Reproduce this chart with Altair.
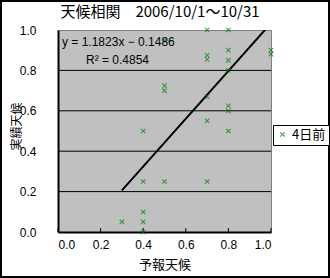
import altair as alt
import pandas as pd

# Data
forecast = [0.7, 0.8, 0.5, 1.0, 1.0, 0.8, 0.7, 0.7, 0.8, 0.8, 0.5, 0.5, 0.7,
            0.8, 0.8, 0.7, 0.8, 0.4, 0.4, 0.5, 0.7, 0.4, 0.3, 0.4, 0.4]
actual = [1.0, 1.0, 0.95, 0.90, 0.88, 0.90, 0.875, 0.855, 0.85, 0.80, 0.725, 0.70, 0.67,
          0.625, 0.60, 0.55, 0.50, 0.50, 0.25, 0.25, 0.25, 0.10, 0.05, 0.05, 0.0]
series_name = "4日前"
slope = 1.1823
intercept = -0.1486
r2 = 0.4854
tick_vals = [0.0, 0.2, 0.4, 0.6, 0.8, 1.0]
grid_vals = [0.2, 0.4, 0.6, 0.8]
title_text = "天候相関\u30002006/10/1〜10/31"

JP = "Noto Sans CJK JP"
NUM = "Liberation Sans"
GREEN = "#008000"
XPATH = "M-1,-1L1,1M-1,1L1,-1"

pts = pd.DataFrame({"x": forecast, "y": actual, "s": series_name})
xmin, xmax = min(forecast), max(forecast)
trend = pd.DataFrame({"x": [xmin, xmax],
                      "y": [slope * xmin + intercept, slope * xmax + intercept]})
grid = pd.DataFrame({"g": grid_vals})
ticks = pd.DataFrame({"t": tick_vals})

xs = alt.Scale(domain=[0, 1], nice=False)
ys = alt.Scale(domain=[0, 1], nice=False)

xaxis = alt.Axis(values=tick_vals, format=".1f", title="予報天候", grid=False,
                 ticks=False, domainColor="black", domainWidth=2,
                 labelFont=NUM, labelFontSize=12, labelColor="black", labelPadding=7,
                 titleFont=JP, titleFontSize=13, titleFontWeight="normal",
                 titleColor="black", titlePadding=8)
yaxis = alt.Axis(values=tick_vals, format=".1f", title="実績天候", grid=False,
                 ticks=False, domainColor="black", domainWidth=2,
                 labelFont=NUM, labelFontSize=12, labelColor="black", labelPadding=22,
                 titleFont=JP, titleFontSize=12, titleFontWeight="normal",
                 titleColor="black", titleX=-42, titleY=96, titleAngle=270,
                 titleBaseline="middle", titleAlign="center")

gridlines = alt.Chart(grid).mark_rule(color="black", strokeWidth=1).encode(
    y=alt.Y("g:Q", scale=ys, axis=yaxis))

xticks = alt.Chart(ticks).mark_rule(color="black", strokeWidth=1).encode(
    x=alt.X("t:Q", scale=xs, axis=xaxis), y=alt.value(202), y2=alt.value(198))

line = alt.Chart(trend).mark_line(color="black", strokeWidth=2, clip=True).encode(
    x=alt.X("x:Q", scale=xs), y=alt.Y("y:Q", scale=ys))

points = alt.Chart(pts).mark_point(shape=XPATH, filled=False, size=20,
                                   strokeWidth=1.1, clip=False).encode(
    x=alt.X("x:Q", scale=xs),
    y=alt.Y("y:Q", scale=ys),
    color=alt.Color("s:N", scale=alt.Scale(domain=[series_name], range=[GREEN]),
                    legend=alt.Legend(title=None, orient="none", legendX=215, legendY=95,
                                      symbolType=XPATH, symbolSize=20,
                                      symbolStrokeWidth=1.1, symbolFillColor="transparent",
                                      labelFont=JP, labelFontSize=13, labelColor="black",
                                      labelOffset=3, strokeColor="black", fillColor="white",
                                      padding=3)))

eq = pd.DataFrame({"t": [f"y = {slope:.4f}x − {abs(intercept):.4f}"]})
rr = pd.DataFrame({"t": [f"R² = {r2:.4f}"]})
tt = pd.DataFrame({"t": [title_text]})
eq_text = alt.Chart(eq).mark_text(align="left", baseline="middle", font=NUM,
                                  fontSize=12, color="black").encode(
    text="t:N", x=alt.value(4), y=alt.value(12))
rr_text = alt.Chart(rr).mark_text(align="left", baseline="middle", font=NUM,
                                  fontSize=12, color="black").encode(
    text="t:N", x=alt.value(28), y=alt.value(30))
title_mark = alt.Chart(tt).mark_text(align="center", baseline="middle", font=JP,
                                     fontSize=15, color="black", clip=False).encode(
    text="t:N", x=alt.value(102), y=alt.value(-18))

frame = alt.Chart(eq).mark_rect(fill=None, stroke="black", strokeWidth=2, clip=False).encode(
    x=alt.value(-57), x2=alt.value(271), y=alt.value(-29), y2=alt.value(247))

chart = alt.layer(gridlines, xticks, line, points, eq_text, rr_text, title_mark, frame).properties(
    width=213, height=202,
    autosize=alt.AutoSizeParams(type="none"),
    padding={"left": 58, "top": 30, "right": 59, "bottom": 46},
    background="white",
).configure_view(fill="#C0C0C0", stroke="#808080", strokeWidth=1)

chart.save("out.html", embed_options={"renderer": "svg", "actions": False})
